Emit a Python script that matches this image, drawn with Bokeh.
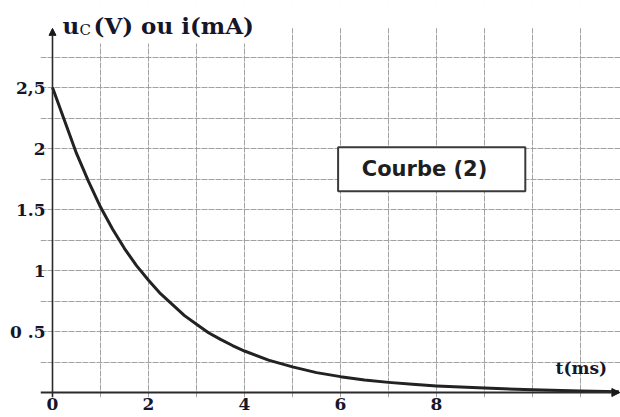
from bokeh.plotting import figure
from bokeh.models import Label, BoxAnnotation, Arrow, NormalHead, FixedTicker, Range1d
from bokeh.embed import file_html
from bokeh.resources import INLINE

# data
t_ms = [0, 0.25, 0.5, 0.75, 1.0, 1.25, 1.5, 1.75, 2.0, 2.25, 2.5, 2.75, 3.0, 3.25, 3.5, 3.75, 4.0, 4.5,
        5.0, 5.5, 6.0, 6.5, 7.0, 7.5, 8.0, 9.0, 10.0, 11.0, 11.8]
u_val = [2.5, 2.23, 1.96, 1.73, 1.52, 1.34, 1.18, 1.04, 0.92, 0.81, 0.72, 0.63, 0.56, 0.49, 0.435, 0.385, 0.34, 0.265,
         0.21, 0.163, 0.13, 0.103, 0.083, 0.067, 0.054, 0.036, 0.022, 0.012, 0.006]
x_ticks = [0, 2, 4, 6, 8]
y_ticks = [0.5, 1, 1.5, 2, 2.5]
y_tick_labels = ["0 .5", "1", "1.5", "2", "2,5"]
x_grid = [1, 2, 3, 4, 5, 6, 7, 8, 9, 10, 11]
y_grid = [0.25, 0.5, 0.75, 1.0, 1.25, 1.5, 1.75, 2.0, 2.25, 2.5, 2.75]

SERIF = "DejaVu Serif"
INK = "#16162a"

p = figure(width=620, height=417, output_backend="svg", toolbar_location=None,
           x_range=Range1d(-0.25, 11.833), y_range=Range1d(-0.041, 3.197),
           min_border_left=40, min_border_right=0, min_border_top=2, min_border_bottom=20)
p.outline_line_color = None
p.background_fill_color = "white"

# grid
p.xgrid.ticker = FixedTicker(ticks=x_grid)
p.ygrid.ticker = FixedTicker(ticks=y_grid)
for g in (p.xgrid, p.ygrid):
    g.grid_line_color = "#a2a2a2"
    g.grid_line_width = 1
    g.grid_line_dash = "6 1"

# axes
p.xaxis.ticker = FixedTicker(ticks=x_ticks)
p.yaxis.ticker = FixedTicker(ticks=y_ticks)
p.yaxis.major_label_overrides = {float(v): s for v, s in zip(y_ticks, y_tick_labels)}
for ax in (p.xaxis, p.yaxis):
    ax.axis_line_color = None
    ax.major_tick_line_color = None
    ax.minor_tick_line_color = None
    ax.major_tick_out = 0
    ax.major_tick_in = 0
    ax.minor_tick_out = 0
    ax.minor_tick_in = 0
    ax.major_label_text_font = SERIF
    ax.major_label_text_font_style = "bold"
    ax.major_label_text_font_size = "17px"
    ax.major_label_text_color = INK
p.xaxis.major_label_standoff = 0
p.yaxis.major_label_standoff = -5

# blank area above the grid
p.add_layout(BoxAnnotation(left=-1, right=13, bottom=2.985, top=4, fill_color="white", fill_alpha=1,
                           line_color=None))
# white area behind the axis title
p.add_layout(BoxAnnotation(left=0.1, right=4.45, bottom=2.86, top=3.1, fill_color="white", fill_alpha=1,
                           line_color=None))

# curve
p.line(t_ms, u_val, line_color="#222222", line_width=3, line_join="round")

# axis lines with arrows
p.add_layout(Arrow(x_start=-0.25, y_start=0, x_end=11.82, y_end=0, line_color="#2a2a2a", line_width=2,
                   end=NormalHead(size=8, fill_color="#1a1a1a", line_color="#1a1a1a")))
p.add_layout(Arrow(x_start=0, y_start=-0.041, x_end=0, y_end=2.985, line_color="#2a2a2a", line_width=1.6,
                   end=NormalHead(size=7, fill_color="#1a1a1a", line_color="#1a1a1a")))

# axis title
p.add_layout(Label(x=0, y=2.90, x_offset=10, text="u", text_font=SERIF, text_font_style="bold",
                   text_font_size="23px", text_color=INK))
p.add_layout(Label(x=0, y=2.90, x_offset=27, text="C", text_font=SERIF,
                   text_font_size="15px", text_color=INK))
p.add_layout(Label(x=0, y=2.90, x_offset=41, text="(V) ou i(mA)", text_font=SERIF, text_font_style="bold",
                   text_font_size="23px", text_color=INK))

# t(ms)
p.add_layout(Label(x=10.48, y=0.12, text="t(ms)", text_font=SERIF, text_font_style="bold",
                   text_font_size="17px", text_color=INK))

# Courbe (2) box
p.add_layout(BoxAnnotation(left=5.95, right=9.85, bottom=1.65, top=2.01, fill_color="white", fill_alpha=1,
                           line_color="#3a3a3a", line_alpha=1, line_width=2))
p.add_layout(Label(x=7.75, y=1.83, text="Courbe (2)", text_font="DejaVu Sans", text_font_style="bold",
                   text_font_size="21px", text_color="#1e1e1e", text_align="center", text_baseline="middle"))

open("out.html", "w").write(file_html(p, INLINE))
